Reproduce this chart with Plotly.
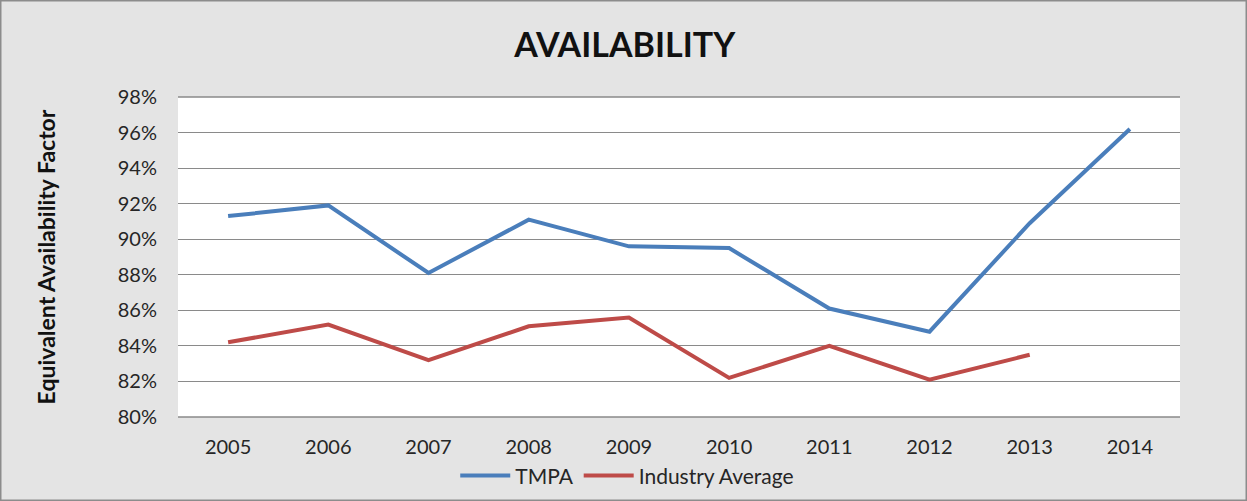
import plotly.graph_objects as go

years = ["2005", "2006", "2007", "2008", "2009", "2010", "2011", "2012", "2013", "2014"]
tmpa = [91.3, 91.9, 88.1, 91.1, 89.6, 89.5, 86.1, 84.8, 90.9, 96.2]
industry = [84.2, 85.2, 83.2, 85.1, 85.6, 82.2, 84.0, 82.1, 83.5, None]
y_ticks = [80, 82, 84, 86, 88, 90, 92, 94, 96, 98]
y_ticktext = [f"{v}%" for v in y_ticks]

FONT = "Lato"

fig = go.Figure()
fig.add_trace(go.Scatter(x=years, y=tmpa, mode="lines", name="TMPA",
                         line=dict(color="#4a7ebb", width=4)))
fig.add_trace(go.Scatter(x=years, y=industry, mode="lines", name="Industry Average",
                         line=dict(color="#be4b48", width=4)))

fig.update_layout(
    width=1247, height=501,
    margin=dict(l=178, r=67, t=97, b=84, autoexpand=False),
    paper_bgcolor="#e4e4e4",
    plot_bgcolor="#ffffff",
    font=dict(family=FONT, size=20, color="#262626"),
    title=dict(text="<b>AVAILABILITY</b>", x=0.501, xref="container", xanchor="center",
               y=0.91, yref="container", yanchor="middle",
               font=dict(family=FONT, size=34, color="#111111")),
    legend=dict(orientation="h", x=0.503, xref="container", xanchor="center",
                y=0.05, yref="container", yanchor="middle",
                bgcolor="rgba(0,0,0,0)", font=dict(size=21), itemwidth=50,
                tracegroupgap=0),
    showlegend=True,
)
fig.update_xaxes(type="category", range=[-0.5, 9.5], showgrid=False, zeroline=False,
                 showline=False, ticks="outside", ticklen=12, tickcolor="rgba(0,0,0,0)",
                 automargin=False,
                 tickfont=dict(size=20, color="#262626"))
fig.update_yaxes(range=[80, 98], tickvals=y_ticks, ticktext=y_ticktext,
                 showgrid=True, gridcolor="#8a8a8a", gridwidth=1, zeroline=False,
                 showline=False, ticks="outside", ticklen=16, tickcolor="rgba(0,0,0,0)",
                 automargin=False,
                 tickfont=dict(size=20, color="#262626"),
                 title=dict(text="<b>Equivalent Availability Factor</b>", standoff=55,
                            font=dict(size=23, color="#111111")))
fig.add_shape(type="line", xref="paper", yref="paper", x0=0, x1=1, y0=0, y1=0,
              line=dict(color="#8a8a8a", width=1.5))
fig.add_shape(type="line", xref="paper", yref="paper", x0=0, x1=1, y0=1, y1=1,
              line=dict(color="#8a8a8a", width=1.5))
fig.add_shape(type="rect", xref="paper", yref="paper",
              x0=-178/1002, x1=1 + 67/1002, y0=-84/320, y1=1 + 97/320,
              line=dict(color="#8c8c8c", width=3), layer="below")

fig.write_html("out.html")
